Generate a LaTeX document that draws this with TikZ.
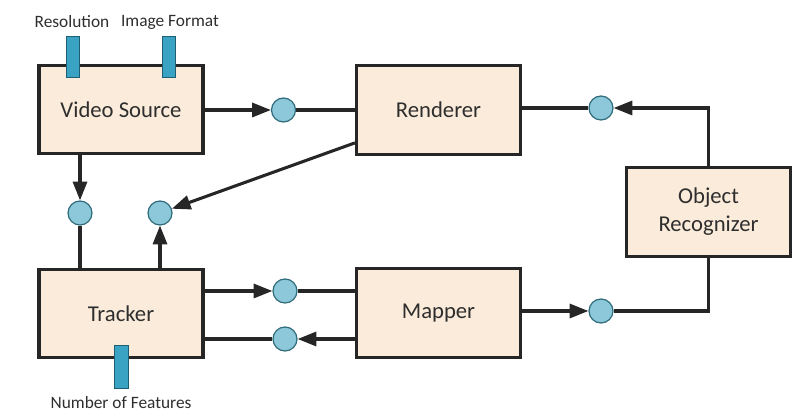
\documentclass[tikz,border=0pt]{standalone}
\usepackage{fontspec}
\setmainfont{Carlito}
\usetikzlibrary{arrows.meta}
\definecolor{boxfill}{HTML}{FBEBDA}
\definecolor{circfill}{HTML}{8CC8DA}
\definecolor{circdraw}{HTML}{2F6B7A}
\definecolor{portfill}{HTML}{3AA3C3}
\definecolor{portdraw}{HTML}{1F5F73}
\definecolor{txt}{HTML}{2E2E2E}
\tikzset{
  blockbox/.style={draw=black!85, line width=2.3pt, fill=boxfill, minimum width=123pt, minimum height=66.5pt, inner sep=0pt, text=txt, font=\fontsize{17}{21}\selectfont, align=center},
  dot/.style={circle, draw=circdraw, line width=0.9pt, fill=circfill, minimum size=18pt, inner sep=0pt},
  port/.style={draw=portdraw, line width=0.7pt, fill=portfill},
  wire/.style={line width=2.3pt, draw=black!85},
  arr/.style={wire, -{Triangle[length=14pt,width=10.5pt]}},
  lbl/.style={text=txt, font=\fontsize{13}{15}\selectfont, inner sep=0pt}
}
\begin{document}
\begin{tikzpicture}[x=0.75pt,y=-0.75pt]
\useasboundingbox (0,0) rectangle (800,416);
\node[blockbox] (vs) at (121,109.5) {Video Source};
\node[blockbox] (ren) at (438.5,110) {Renderer};
\node[blockbox] (obj) at (708.5,212) {Object\\Recognizer};
\node[blockbox] (trk) at (121,313.5) {Tracker};
\node[blockbox] (map) at (438.5,313) {Mapper};

\node[dot] (c1) at (283.5,110) {};
\node[dot] (c2) at (601,108) {};
\node[dot] (c3) at (80,213) {};
\node[dot] (c4) at (160,213) {};
\node[dot] (c5) at (285,291) {};
\node[dot] (c6) at (285,339) {};
\node[dot] (c7) at (601,311) {};

\draw[port] (66,36) rectangle (79,77);
\draw[port] (162,36) rectangle (175,77);
\draw[port] (114,345) rectangle (128,388);
\node[lbl] (lres) at (72,22) {Resolution};
\node[lbl] (lfmt) at (170,22) {Image Format};
\node[lbl] (lnf) at (121,403) {Number of Features};

\draw[arr] (vs.east |- c1) -- (c1.west);
\draw[wire] (c1.east) -- (ren.west |- c1);
\draw[wire] (ren.east |- c2) -- (c2.west);
\draw[arr] (obj.north) |- (c2.east);
\draw[wire] (obj.south) |- (c7.east);
\draw[arr] (map.east |- c7) -- (c7.west);
\draw[arr] (vs.south -| c3) -- (c3.north);
\draw[wire] (c3.south) -- (trk.north -| c3);
\draw[arr] (trk.north -| c4) -- (c4.south);
\coordinate (rp) at ([yshift=9.75pt]ren.south west);
\draw[arr] (rp) -- (c4);
\draw[arr] (trk.east |- c5) -- (c5.west);
\draw[wire] (c5.east) -- (map.west |- c5);
\draw[arr] (map.west |- c6) -- (c6.east);
\draw[wire] (c6.west) -- (trk.east |- c6);
\end{tikzpicture}
\end{document}
